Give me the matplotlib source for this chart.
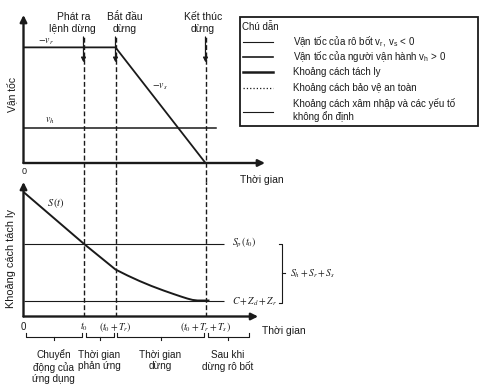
import matplotlib
matplotlib.use("agg")
import matplotlib.pyplot as plt
import matplotlib.transforms as mtransforms
from matplotlib.patches import Rectangle

# stopping timeline (time units)
t0 = 3.0
Tr = 1.6
Ts = 4.5
stop_times = [t0, t0 + Tr, t0 + Tr + Ts]

# velocity panel
robot_t = [0.0, t0 + Tr, t0 + Tr + Ts]
robot_v = [1.0, 1.0, 0.0]
human_t = [0.0, 9.6]
human_v = [0.3, 0.3]

# separation distance panel
sep_t = [0.0, 3.0, 4.6, 5.2, 5.8, 6.4, 7.0, 7.5, 7.9, 8.2, 8.45, 8.7, 9.25]
sep_s = [12.45, 7.3, 4.7, 4.1, 3.55, 3.05, 2.6, 2.25, 1.98, 1.79, 1.66, 1.6, 1.6]
sp_level = 7.3
cz_level = 1.6
level_end = 10.0

phase_labels = ["Chuyển\nđộng của\nứng dụng", "Thời gian\nphản ứng",
                "Thời gian\ndừng", "Sau khi\ndừng rô bốt"]
phase_edges = [0.0, t0, t0 + Tr, t0 + Tr + Ts, 11.35]
tick_labels = ["0", r"$t_0$", r"$(t_0 + T_r)$", r"$(t_0 + T_r + T_s)$"]
tick_pos = [0.0] + stop_times

legend_labels = [
    "Vận tốc của rô bốt v$_\\mathregular{r}$, v$_\\mathregular{s}$ < 0",
    "Vận tốc của người vận hành v$_\\mathregular{h}$ > 0",
    "Khoảng cách tách ly",
    "Khoảng cách bảo vệ an toàn",
    "Khoảng cách xâm nhập và các yếu tố\nkhông ổn định",
]
legend_styles = [("-", 0.8), ("-", 1.2), ("-", 1.8), (":", 0.9), ("-", 0.8)]

W, H = 483, 384
K = "#1a1a1a"
plt.rcParams["font.family"] = ["Liberation Sans", "DejaVu Sans"]
plt.rcParams["mathtext.fontset"] = "stix"

fig = plt.figure(figsize=(W / 100, H / 100), dpi=100)
px = mtransforms.Affine2D().scale(1 / W, -1 / H).translate(0, 1) + fig.transFigure


def axes_box(left, right, top, bottom):
    return [left / W, 1 - bottom / H, (right - left) / W, (bottom - top) / H]


xmax = 12.075
ax1 = fig.add_axes(axes_box(23.5, 265, 15, 163))
ax1.set_xlim(0, xmax)
ax1.set_ylim(0, 1.28)
ax1.axis("off")

ax2 = fig.add_axes(axes_box(23.5, 265, 182, 316.5))
ax2.set_xlim(0, xmax)
ax2.set_ylim(0, 13.45)
ax2.axis("off")

arrow = dict(arrowstyle="-|>", lw=1.7, color=K, mutation_scale=10, shrinkA=0, shrinkB=0)

# top panel: velocities
ax1.annotate("", xy=(xmax, 0), xytext=(0, 0), arrowprops=arrow)
ax1.annotate("", xy=(0, 1.28), xytext=(0, 0), arrowprops=arrow)
ax1.plot(robot_t, robot_v, color=K, lw=1.3, solid_capstyle="butt")
ax1.plot(human_t, human_v, color=K, lw=1.1)
ax1.vlines(stop_times, -0.165, 1.09, colors=K, lw=1.0, linestyles=(0, (3.5, 1.8)),
           clip_on=False)
for t in stop_times:
    ax1.annotate("", xy=(t, 0.87), xytext=(t, 1.09),
                 arrowprops=dict(arrowstyle="-|>", lw=0.9, color=K, mutation_scale=7,
                                 shrinkA=0, shrinkB=0))

# bottom panel: separation distance
ax2.annotate("", xy=(11.73, 0), xytext=(0, 0), arrowprops=arrow)
ax2.annotate("", xy=(0, 13.45), xytext=(0, 0), arrowprops=arrow)
ax2.vlines(stop_times, 0, 13.45, colors=K, lw=1.0, linestyles=(0, (3.5, 1.8)))
ax2.hlines([sp_level, cz_level], 0, level_end, colors=K, lw=0.8)
ax2.plot(sep_t, sep_s, color=K, lw=1.4)

# bracket on the right
bx = 12.93
ax2.plot([bx - 0.18, bx, bx, bx - 0.18], [sp_level, sp_level, cz_level - 0.2, cz_level - 0.2],
         color=K, lw=0.8, clip_on=False)
mid = (sp_level + cz_level - 0.2) / 2
ax2.plot([bx, bx + 0.15], [mid, mid], color=K, lw=0.8, clip_on=False)

# phase braces under the time axis
gap = 0.1
for a, b, lab in zip(phase_edges[:-1], phase_edges[1:], phase_labels):
    lo, hi = a + gap, b - gap
    c = (a + b) / 2
    ax2.plot([lo, lo, hi, hi], [-1.65, -2.05, -2.05, -1.65], color=K, lw=0.8, clip_on=False)
    ax2.plot([c, c], [-2.05, -2.35], color=K, lw=0.8, clip_on=False)
    ax2.text(c, -3.3, lab, ha="center", va="top", fontsize=7.2, linespacing=1.15,
             color=K, clip_on=False)

for t, lab in zip(tick_pos, tick_labels):
    ax2.text(t, -1.05, lab, ha="center", va="center", fontsize=7, color=K)

# text annotations (pixel positions)
txt = dict(transform=px, color=K)
fig.text(74, 17, "Phát ra", ha="center", va="center", fontsize=7.5, **txt)
fig.text(72, 29, "lệnh dừng", ha="center", va="center", fontsize=7.5, **txt)
fig.text(125, 17, "Bắt đầu", ha="center", va="center", fontsize=7.5, **txt)
fig.text(125, 29, "dừng", ha="center", va="center", fontsize=7.5, **txt)
fig.text(203, 17, "Kết thúc", ha="center", va="center", fontsize=7.5, **txt)
fig.text(203, 29, "dừng", ha="center", va="center", fontsize=7.5, **txt)

fig.text(46, 42, r"$-v_r$", ha="center", va="center", fontsize=7, **txt)
fig.text(160, 87, r"$-v_s$", ha="center", va="center", fontsize=7, **txt)
fig.text(50, 121, r"$v_h$", ha="center", va="center", fontsize=7, **txt)
fig.text(56, 203, r"$S\,(t)$", ha="center", va="center", fontsize=7.5, **txt)
fig.text(24, 172, "0", ha="center", va="center", fontsize=6.5, **txt)
fig.text(232, 243, r"$S_p\,(t_0)$", ha="left", va="center", fontsize=7, **txt)
fig.text(232, 302, r"$C + Z_d + Z_r$", ha="left", va="center", fontsize=7, **txt)
fig.text(290, 274, r"$S_h + S_r + S_s$", ha="left", va="center", fontsize=7, **txt)

fig.text(240, 180, "Thời gian", ha="left", va="center", fontsize=7.5, **txt)
fig.text(262, 331, "Thời gian", ha="left", va="center", fontsize=7.5, **txt)
fig.text(12, 94, "Vận tốc", ha="center", va="center", rotation=90, fontsize=7.5, **txt)
fig.text(11, 258, "Khoảng cách tách ly", ha="center", va="center", rotation=90,
         fontsize=7.8, **txt)

# legend box
fig.patches.append(Rectangle((240, 17), 238, 109, transform=px, fill=False, ec=K, lw=1.3))
fig.text(242, 27, "Chú dẫn", ha="left", va="center", fontsize=7, **txt)
rows_y = [42, 57, 72, 88, 110]
for y, lab, (ls, lw) in zip(rows_y, legend_labels, legend_styles):
    line_y = y + 2 if "\n" in lab else y
    fig.add_artist(plt.Line2D([243, 273], [line_y, line_y], transform=px, color=K,
                              ls=ls, lw=lw))
    fig.text(293, y, lab, ha="left", va="center", fontsize=7, linespacing=1.2, **txt)

fig.savefig("out.png", dpi=100)
